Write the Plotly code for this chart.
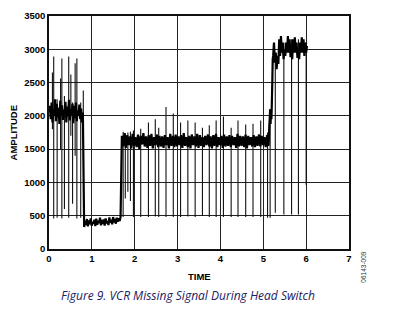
import numpy as np
import plotly.graph_objects as go

# ---------------- data ----------------
# dense signal, segment by segment: (start time, end time) and sampled amplitudes
seg1_span = (0.00, 0.79)
seg1_vals = [2050, 2150, 1950, 2200, 1900, 2100, 2000, 2250, 1920, 2180,
             1980, 2120, 1880, 2230, 2010, 2160, 1940, 2090, 2050, 2210,
             1900, 2140, 1990, 2240, 1930, 2100, 2020, 2180, 1890, 2150,
             1960, 2200, 1920, 2080, 2000, 2170, 1950, 2110, 1900, 2050]

seg2_span = (0.82, 1.67)
seg2_vals = [330, 420, 360, 450, 340, 430, 370, 460, 350, 410,
             380, 440, 345, 455, 365, 425, 390, 470, 355, 435,
             375, 445, 350, 460, 385, 420, 360, 475, 395, 440,
             370, 480, 400, 450, 380, 470, 410, 460, 420, 480]

seg3_span = (1.70, 5.12)
seg3_vals = [1700, 1540, 1740, 1520, 1710, 1560, 1690, 1510, 1730, 1550,
             1680, 1530, 1720, 1500, 1700, 1570, 1740, 1540, 1690, 1520,
             1710, 1550, 1730, 1510, 1680, 1560, 1720, 1530, 1700, 1540,
             1690, 1520, 1710, 1560, 1680, 1510, 1730, 1550, 1700, 1530,
             1720, 1540, 1690, 1560, 1710, 1520, 1740, 1550, 1680, 1530,
             1700, 1510, 1720, 1560, 1690, 1540, 1730, 1520, 1710, 1550,
             1680, 1530, 1700, 1560, 1720, 1540, 1690, 1510, 1710, 1550,
             1730, 1530, 1680, 1560, 1700, 1520, 1720, 1540, 1690, 1550,
             1710, 1530, 1700, 1560, 1680, 1520, 1730, 1540, 1700, 1550,
             1690, 1530, 1720, 1510, 1700, 1560, 1680, 1540, 1710, 1530,
             1690, 1550, 1720, 1540, 1700, 1560, 1680, 1530, 1710, 1550]

rise_span = (5.13, 5.22)
rise_vals = [1650, 1850, 1950, 2100, 1880, 2080, 1950, 2200, 2500, 2850]

seg4_span = (5.23, 6.02)
seg4_vals = [2900, 3100, 2800, 2950, 2700, 2900, 2780, 3150, 2900, 3200,
             2950, 3100, 2850, 3000, 2900, 3100, 2950, 3200, 2950, 3150,
             2880, 3050, 2850, 3150, 2950, 3180, 2950, 3100, 2870, 3000,
             2850, 3100, 2950, 3180, 2950, 3150, 2900, 3100, 2950, 3050]

# glitch spikes: time, lowest and highest amplitude reached
spike_t = [0.08, 0.11, 0.19, 0.27, 0.30, 0.36, 0.46, 0.51, 0.55, 0.61, 0.65, 0.74, 0.80,
           1.73, 1.78, 1.84, 1.90, 1.97, 2.14, 2.32, 2.48, 2.56, 2.73, 2.90, 3.07,
           3.24, 3.41, 3.58, 3.74, 3.90, 4.07, 4.25, 4.41, 4.59, 4.76, 4.94, 5.10,
           5.16, 5.28, 5.48, 5.66, 5.82, 6.00]
spike_lo = [1800, 460, 470, 1500, 460, 600, 470, 1700, 680, 1400, 460, 470, 1900,
            480, 760, 860, 720, 480, 480, 480, 490, 480, 480, 480, 480,
            490, 480, 500, 480, 480, 480, 480, 480, 480, 480, 480, 470,
            470, 546, 520, 520, 520, 966]
spike_hi = [2650, 2890, 2250, 2560, 2860, 2300, 2890, 2620, 2200, 2790, 2860, 2200, 2380,
            1760, 1740, 1750, 1760, 1780, 1805, 1900, 1950, 1820, 2133, 2035, 1900,
            1930, 1900, 1820, 1860, 1930, 1990, 1820, 1930, 1870, 1880, 1930, 1750,
            2100, 2900, 3100, 3150, 3150, 3100]

x_ticks = [0, 1, 2, 3, 4, 5, 6, 7]
y_ticks = [0, 500, 1000, 1500, 2000, 2500, 3000, 3500]

# ---------------- build traces ----------------
segments = [(seg1_span, seg1_vals), (seg2_span, seg2_vals), (seg3_span, seg3_vals),
            (rise_span, rise_vals), (seg4_span, seg4_vals)]
sig_t, sig_v = [], []
for (a, b), vals in segments:
    sig_t.extend(np.linspace(a, b, len(vals)).tolist())
    sig_v.extend(vals)

sx, sy = [], []
for t, lo, hi in zip(spike_t, spike_lo, spike_hi):
    sx += [t, t, None]
    sy += [lo, hi, None]

fig = go.Figure()
fig.add_trace(go.Scatter(x=sx, y=sy, mode="lines",
                         line=dict(color="#111", width=1.1, simplify=False), hoverinfo="skip"))
fig.add_trace(go.Scatter(x=sig_t, y=sig_v, mode="lines",
                         line=dict(color="black", width=2.2, simplify=False), hoverinfo="skip"))

tickfont = dict(family="Liberation Sans, Arial", size=9.5, color="black", weight="bold")
fig.update_layout(
    width=396, height=322,
    margin=dict(l=49, r=47, t=10, b=73),
    paper_bgcolor="white", plot_bgcolor="white",
    showlegend=False,
    xaxis=dict(range=[0, 7], tickvals=x_ticks, ticktext=[str(v) for v in x_ticks],
               showgrid=True, gridcolor="#222", gridwidth=1, zeroline=False,
               showline=True, linecolor="#111", linewidth=1.5, mirror=True,
               ticks="", tickfont=tickfont),
    yaxis=dict(range=[0, 3500], tickvals=y_ticks, ticktext=[str(v) for v in y_ticks],
               showgrid=True, gridcolor="#222", gridwidth=1, zeroline=False,
               showline=True, linecolor="#111", linewidth=1.5, mirror=True,
               ticks="", tickfont=tickfont),
)

fig.add_annotation(text="AMPLITUDE", xref="paper", yref="paper", x=-0.117, y=0.5,
                   textangle=-90, showarrow=False, xanchor="center", yanchor="middle",
                   font=dict(family="Liberation Sans, Arial", size=9.5, color="black", weight="bold"))
fig.add_annotation(text="TIME", xref="paper", yref="paper", x=0.5, y=-0.117,
                   showarrow=False, xanchor="center", yanchor="middle",
                   font=dict(family="Liberation Sans, Arial", size=9.5, color="black", weight="bold"))
fig.add_annotation(text="Figure 9. VCR Missing Signal During Head Switch",
                   xref="paper", yref="paper", x=0.463, y=-0.201,
                   showarrow=False, xanchor="center", yanchor="middle",
                   font=dict(family="Open Sans", size=12, color="#1b2063", style="italic"))
fig.add_annotation(text="06143-009", xref="paper", yref="paper", x=1.05, y=-0.08,
                   textangle=-90, showarrow=False, xanchor="center", yanchor="middle",
                   font=dict(family="Liberation Sans, Arial", size=6.5, color="#333"))

fig.write_html("out.html")
